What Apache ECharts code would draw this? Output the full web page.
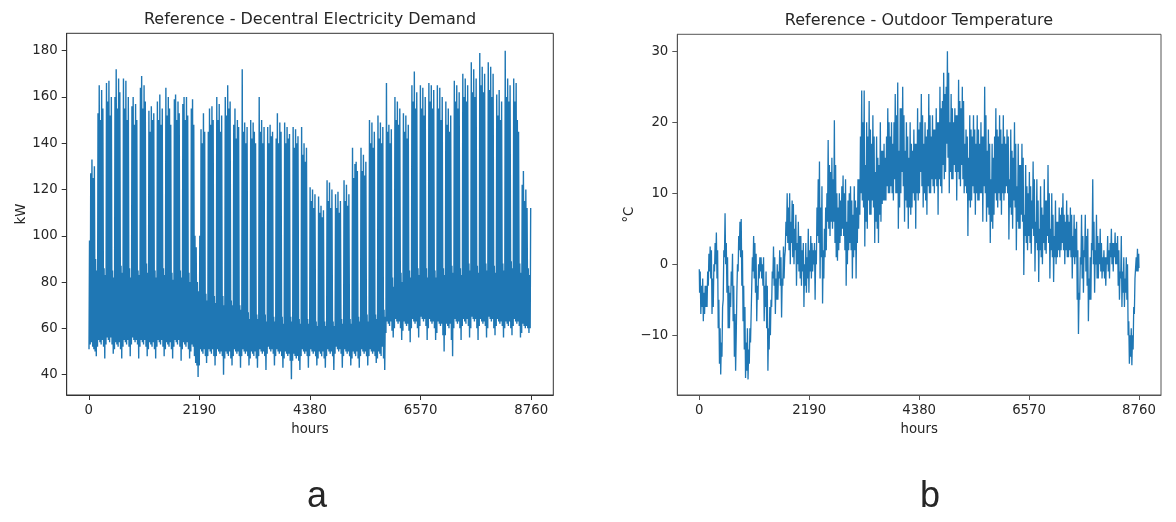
<!DOCTYPE html>
<html>
<head>
<meta charset="utf-8">
<script src="https://cdn.jsdelivr.net/npm/echarts@6.0.0/dist/echarts.min.js"></script>
<style>
html,body{margin:0;padding:0;background:#fff;}
#chart{width:1176px;height:522px;}
</style>
</head>
<body>
<div id="chart"></div>
<script>
// ---- tick labels ----
const hourTicks = [0, 2190, 4380, 6570, 8760];
const demandTicks = [40, 60, 80, 100, 120, 140, 160, 180];
const tempTicks = [-10, 0, 10, 20, 30];

// ---- decentral electricity demand (kW), read week by week ----
// weekday (Mon..Fri) daily peaks
const demandWeekdayPeaks = [
  [98,127,133,125,130],[153,165,150,163,155],[166,158,167,152,160],[160,172,155,168,162],
  [168,155,167,150,160],[156,160,148,157,150],[164,169,155,165,158],[154,145,156,150,153],
  [158,150,161,148,155],[164,152,160,155,148],[159,161,150,158,153],[157,160,150,160,152],
  [155,159,148,100,95],[100,146,140,153,145],[145,155,148,156,150],[160,150,157,145,152],
  [160,152,165,155,158],[148,155,142,150,147],[172,145,149,140,147],[150,142,149,145,140],
  [160,145,150,140,147],[147,140,148,143,145],[142,153,140,149,145],[149,140,147,142,144],
  [147,138,146,140,143],[147,135,140,132,138],[121,115,120,112,118],[117,110,113,108,111],
  [124,115,123,112,120],[118,112,119,110,115],[124,115,122,113,118],[138,125,131,132,128],
  [138,128,135,126,132],[150,140,149,138,145],[152,142,149,140,147],[166,145,148,140,146],
  [160,150,158,148,155],[153,145,152,142,148],[165,158,171,155,162],[165,155,164,152,160],
  [166,158,165,155,163],[165,155,164,150,160],[158,148,155,145,152],[167,158,165,155,162],
  [170,160,168,158,165],[175,162,172,160,168],[179,165,173,162,170],[175,163,173,160,170],
  [161,152,163,150,158],[180,160,168,158,165],[168,158,166,150,145],[122,128,115,120,112]
];
// weekday (Mon..Fri) daily lows
const demandWeekdayLows = [
  [51,53,54,52,51],[52,55,54,53,55],[53,56,55,54,56],[51,54,53,52,54],[52,55,54,53,55],
  [53,56,55,54,55],[52,55,54,53,55],[51,54,53,52,54],[52,55,54,53,55],[51,54,53,52,54],
  [52,55,54,53,55],[51,54,53,52,54],[50,53,52,48,45],[44,51,50,49,51],[48,51,50,49,51],
  [48,51,50,49,50],[47,50,49,48,50],[48,51,50,49,50],[48,51,50,49,50],[47,50,49,48,50],
  [48,51,50,49,50],[49,52,51,50,51],[48,51,50,49,50],[47,50,49,48,49],[46,49,48,47,48],
  [48,51,50,49,50],[48,51,50,49,50],[47,50,49,48,50],[48,51,50,49,50],[49,52,51,50,51],
  [48,51,50,49,50],[47,50,49,48,50],[48,51,50,49,50],[48,51,50,49,50],[47,50,49,48,52],
  [58,63,62,61,63],[60,64,63,62,63],[59,63,62,61,62],[60,64,63,62,63],[61,65,64,63,64],
  [60,64,63,62,63],[58,63,62,61,62],[57,62,61,60,62],[60,64,63,62,63],[61,64,63,62,64],
  [60,65,64,63,64],[61,64,63,62,63],[60,65,64,63,64],[61,64,63,62,63],[60,63,62,61,63],
  [61,64,63,62,63],[58,62,61,60,61]
];
// weekend (Sat, Sun) daily highs
const demandWeekendHighs = [
  [90,85],[86,83],[85,82],[87,84],[86,82],[85,83],[88,84],[85,82],[86,83],[84,81],
  [85,82],[84,80],[80,76],[75,72],[74,71],[74,70],[72,70],[70,68],[67,64],[66,64],
  [66,63],[65,63],[65,62],[65,63],[64,62],[64,62],[63,61],[63,61],[63,61],[64,62],
  [64,62],[65,63],[66,63],[66,64],[68,65],[82,78],[84,80],[85,82],[86,83],[86,82],
  [85,82],[86,83],[87,84],[86,83],[88,85],[87,84],[88,85],[87,84],[88,85],[89,86],
  [88,84],[86,83]
];
// weekend (Sat, Sun) daily lows
const demandWeekendLows = [
  [50,48],[52,47],[53,49],[51,47],[52,48],[53,47],[52,48],[51,47],[52,48],[51,47],
  [52,46],[51,47],[44,39],[48,45],[48,44],[48,40],[47,44],[48,43],[48,44],[47,43],
  [48,42],[49,44],[48,43],[46,38],[46,42],[48,43],[48,44],[47,43],[48,42],[49,43],
  [48,44],[47,43],[48,44],[48,45],[47,42],[59,56],[60,55],[59,54],[60,56],[61,55],
  [60,55],[57,50],[55,48],[60,55],[61,56],[60,55],[61,56],[60,57],[61,56],[60,57],
  [61,56],[60,58]
];
const demandLastDay = [60, 112]; // day 365: low, high

// ---- outdoor temperature (°C): per ~3-day stretch, three daily [low, high] pairs ----
const tempStart = -0.7;
const tempEnd = -0.5;
const tempStretches = [
  [-4,-1,-7,-3,-6,-2],[-8,-4,-7,-3,-6,-3],[-6,-1,-3,1.5,-1,2.5],[-2,2,-7,-2,-6,0],
  [-1,3,0,4.5,-2,2],[-9,-5,-14,-9,-15.5,-11],[-13,-6,-5,2,1,7.2],[0,3,-4,1,-9,-3],
  [-9,-4,-6,-1,-3,1.5],[-8,-3,-13,-7,-15,-10],[-4,0,-1,4,2,6],[1,6.4,-3,2,-8,-3],
  [-12,-6,-16,-11,-15,-9],[-16.2,-12,-14,-9,-11,-7],[-3,1,-1,4,-2,3],[-4,1.5,-8,-3,-5,0],
  [-2,1,-1,1,-2,0],[-3,1,-8,-3,-6,-1],[-9,-3,-15,-9,-12,-6],[-10,-5,-6,-1,-2,2.5],
  [-3,1,-7,-2,-5,0],[-5,-1,-2,2,-3,1],[-7.5,-2,-3,2.5,-2,1],[2,6,4,10,3,8],
  [2,10,0,6,3,9],[1,8.5,0,5,2,7],[-3,3,0,6,-1,4],[-2,4,-3,2,-1,3],
  [-6,0,-3,3,-4,1],[-2,5,-4,2,-1,4],[-2,3,-1,2,0,3],[-5,2,0,8,4,12],
  [3,14.5,-2,8,1,11],[-5.5,2,-2,5,1,8],[2,10,6,17.5,5,14],[4,13,6,15,5,12],
  [6,20.3,3,14,1,10],[0.5,8,2,10,3,9],[4,11,5,12.5,4,10],[2,12,-3,6,0,9],
  [2,10,3,11,2,9],[-2,7,1,11,2,9],[-2,8,3,12,5,12],[7,18,10,24.5,9,20],
  [8,24.5,2.5,14,6,20],[5,18,9,23,7,19],[7,17,9,21,8,18],[3,13,6,18,5,15],
  [3,14,7,20,6,16],[8.5,16,9,17,9,15],[9,18,11,22,10,20],[10,18,11,20,10,17],
  [9,20,12,24,10,21],[10,25.6,5,16,8,22],[10,22,13,25,11,21],[6,16,9,20,8,18],
  [5,15,8,20,7,17],[8,16,10,19,9,17],[5,17,10,22,9,19],[10,20,13,24,11,21],
  [8,17,10,20,9,18],[7,19,11,24,10,21],[10,18,12,21,11,19],[10,19,12,22,11,20],
  [7,20,12,25,11,22],[10,23,14,27,12,24],[13,25,17,30,15,27],[10,20,13,24,12,22],
  [12,20,14,22,13,21],[9,21,13,26,12,23],[11,22,14,25,12,23],[10,17,11,19,10,18],
  [4,15,9,21,8,19],[9,18,11,21,10,19],[7,17,10,21,9,19],[9,17,10,20,10,18],
  [6,18,11,25,10,21],[6,16,8,19,7,17],[3,12,6,17,5,15],[7,18,10,22,9,19],
  [8,18,10,21,9,19],[7,17,10,21,9,18],[10,17,11,19,10,18],[3.5,12,8,19,7,16],
  [5,15,9,20,8,17],[2,11,6,17,5,14],[5,14,7,17,6,15],[-1.5,7,4,14,3,11],
  [2,10,4,13,3,11],[1.5,9,5,14.5,4,12],[-1,6,3,12,2,9],[-2.5,5,2,11,1,8],
  [0,7,3,12,2,9],[1.5,9,4,14,3,10],[-2,5,2,10,1,7],[-2.5,4,1,9,0,6],
  [1,6,2,8,1,7],[2,8,3,10,2,7],[0,6,2,9,1,7],[1,6,2,8,1,7],
  [-2,4,1,7,0,5],[1,6,-5,2,-9.8,-4],[-5,1,0,7,-2,4],[-4,2,1,7,-1,4],
  [-3,5,-8,-2,-5,1],[-5,3,2,12,0,6],[-4,2,0,7,-2,4],[-2,3,0,5,-1,3],
  [-2,1,-1,2,-2,1],[-3,1,0,4,-1,2],[-2,3,1,5,0,3],[-1,3,1,4.5,0,3],
  [0,4,-3,2,-5,-1],[-2,4,-6,-1,-4,1],[-6,-2,-4,1,-5,0],[-10,-8,-14,-10,-13,-9],
  [-14.2,-10,-12,-6,-7,-2],[-2,1,-1,2.2,-1,1.5]
];

// ---- build series data ----
const demandData = [];
for (let d = 0; d < 364; d++) {
  const k = Math.floor(d / 7), dow = d % 7;
  const weekend = dow >= 5;
  const low = weekend ? demandWeekendLows[k][dow - 5] : demandWeekdayLows[k][dow];
  const high = weekend ? demandWeekendHighs[k][dow - 5] : demandWeekdayPeaks[k][dow];
  demandData.push([d * 24 + 4, low], [d * 24 + 14, high]);
}
demandData.push([364 * 24 + 4, demandLastDay[0]], [364 * 24 + 14, demandLastDay[1]]);

const tempData = [[0, tempStart]];
const segCount = tempStretches.length;
const segHours = 8760 / segCount;
for (let i = 0; i < segCount; i++) {
  const row = tempStretches[i];
  const days = row.length / 2;
  for (let j = 0; j < days; j++) {
    const base = i * segHours + j * segHours / days;
    tempData.push([base + 0.25 * segHours / days, row[2 * j]]);
    tempData.push([base + 0.75 * segHours / days, row[2 * j + 1]]);
  }
}
tempData.push([8759, tempEnd]);

// ---- chart ----
const FONT = '"DejaVu Sans", sans-serif';
const TXT = '#262626';
const fmt = v => (v < 0 ? '\u2212' + Math.abs(v) : String(v));

function xAxisCfg(gi, col) {
  return {
    type: 'value', gridIndex: gi, min: -438, max: 9198,
    axisLine: { show: true, onZero: false, lineStyle: { color: col, width: 1 } },
    axisTick: { show: true, length: 5, customValues: hourTicks, lineStyle: { color: col } },
    axisLabel: { customValues: hourTicks, formatter: fmt, margin: 9, fontFamily: FONT, fontSize: 13.3, color: TXT },
    splitLine: { show: false },
    name: 'hours', nameLocation: 'middle', nameGap: 28,
    nameTextStyle: { fontFamily: FONT, fontSize: 13.3, color: TXT }
  };
}
function yAxisCfg(gi, col, min, max, ticks, name, gap) {
  return {
    type: 'value', gridIndex: gi, min: min, max: max,
    axisLine: { show: true, onZero: false, lineStyle: { color: col, width: 1 } },
    axisTick: { show: true, length: 5, customValues: ticks, lineStyle: { color: col } },
    axisLabel: { customValues: ticks, formatter: fmt, margin: 9, fontFamily: FONT, fontSize: 13.3, color: TXT },
    splitLine: { show: false },
    name: name, nameLocation: 'middle', nameGap: gap, nameRotate: 90,
    nameTextStyle: { fontFamily: FONT, fontSize: 13.3, color: TXT }
  };
}
function txt(x, y, s, font) {
  return { type: 'text', x: x, y: y, silent: true,
    style: { text: s, font: font, fill: TXT, textAlign: 'center', textVerticalAlign: 'middle', align: 'center', verticalAlign: 'middle' } };
}

const chart = echarts.init(document.getElementById('chart'), null, { renderer: 'canvas' });
chart.setOption({
  animation: false,
  backgroundColor: '#ffffff',
  grid: [
    { left: 66.7, top: 33.3, width: 486.6, height: 361.7, show: true, borderColor: '#333', borderWidth: 1 },
    { left: 677.3, top: 34.3, width: 483.7, height: 360.7, show: true, borderColor: '#555', borderWidth: 1 }
  ],
  xAxis: [xAxisCfg(0, '#333'), xAxisCfg(1, '#555')],
  yAxis: [
    yAxisCfg(0, '#333', 31.2, 187.5, demandTicks, 'kW', 38),
    yAxisCfg(1, '#555', -18.4, 32.4, tempTicks, '°C', 41)
  ],
  series: [
    { type: 'line', xAxisIndex: 0, yAxisIndex: 0, data: demandData, symbol: 'none', showSymbol: false,
      lineStyle: { color: '#1f77b4', width: 1.4 }, itemStyle: { color: '#1f77b4' }, silent: true },
    { type: 'line', xAxisIndex: 1, yAxisIndex: 1, data: tempData, symbol: 'none', showSymbol: false,
      lineStyle: { color: '#1f77b4', width: 1.3 }, itemStyle: { color: '#1f77b4' }, silent: true }
  ],
  graphic: [
    txt(310, 19.5, 'Reference - Decentral Electricity Demand', '16px ' + FONT),
    txt(919, 20.5, 'Reference - Outdoor Temperature', '16px ' + FONT),
    txt(317, 497, 'a', '36px "Liberation Sans", Arial, sans-serif'),
    txt(930, 497, 'b', '36px "Liberation Sans", Arial, sans-serif')
  ]
});
</script>
</body>
</html>
